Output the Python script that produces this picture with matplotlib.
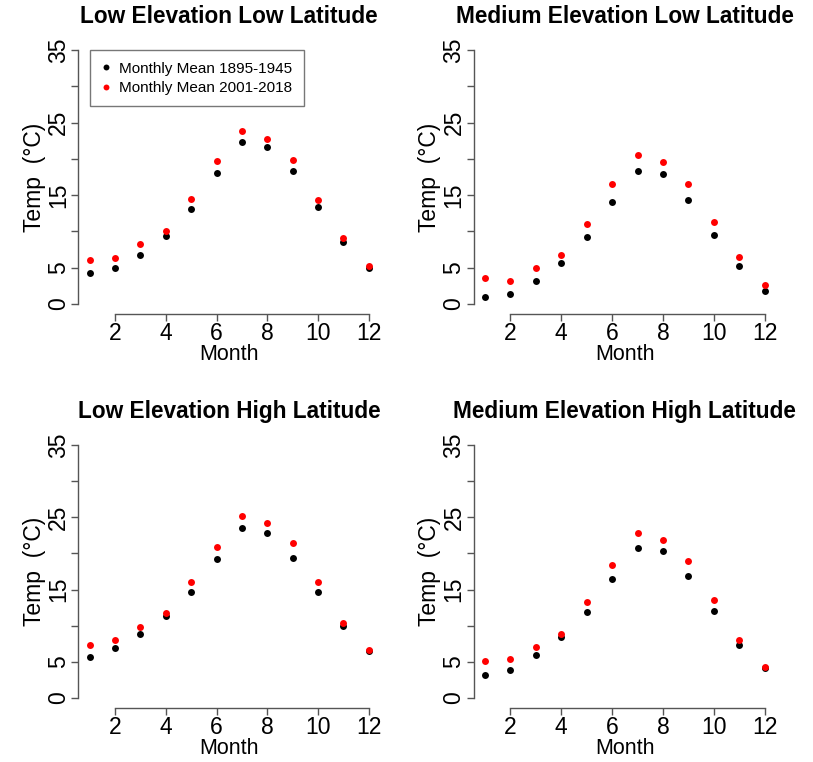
import matplotlib
matplotlib.use("Agg")
import matplotlib.pyplot as plt
import numpy as np

plt.rcParams['font.family'] = ['Liberation Sans', 'DejaVu Sans']

months = list(range(1, 13))

titles = [
    "Low Elevation Low Latitude",
    "Medium Elevation Low Latitude",
    "Low Elevation High Latitude",
    "Medium Elevation High Latitude",
]

# Monthly mean temperature (°C), 1895-1945
early_low_elev_low_lat = [4.3, 5.0, 6.7, 9.4, 13.1, 18.1, 22.3, 21.7, 18.3, 13.3, 8.5, 5.0]
early_med_elev_low_lat = [0.9, 1.3, 3.1, 5.7, 9.2, 14.1, 18.3, 17.9, 14.3, 9.5, 5.2, 1.8]
early_low_elev_high_lat = [5.6, 6.9, 8.8, 11.3, 14.7, 19.3, 23.5, 22.8, 19.4, 14.7, 9.9, 6.5]
early_med_elev_high_lat = [3.2, 3.9, 5.9, 8.5, 11.9, 16.5, 20.8, 20.3, 16.9, 12.1, 7.3, 4.1]

# Monthly mean temperature (°C), 2001-2018
recent_low_elev_low_lat = [6.0, 6.3, 8.2, 10.1, 14.4, 19.7, 23.9, 22.8, 19.9, 14.3, 9.1, 5.2]
recent_med_elev_low_lat = [3.5, 3.2, 5.0, 6.8, 11.0, 16.6, 20.5, 19.6, 16.6, 11.3, 6.4, 2.6]
recent_low_elev_high_lat = [7.3, 8.0, 9.8, 11.7, 16.0, 20.9, 25.2, 24.2, 21.5, 16.0, 10.4, 6.6]
recent_med_elev_high_lat = [5.1, 5.4, 7.1, 8.9, 13.3, 18.4, 22.9, 21.9, 19.0, 13.5, 8.0, 4.3]

early_series = [early_low_elev_low_lat, early_med_elev_low_lat,
                early_low_elev_high_lat, early_med_elev_high_lat]
recent_series = [recent_low_elev_low_lat, recent_med_elev_low_lat,
                 recent_low_elev_high_lat, recent_med_elev_high_lat]

legend_labels = ["Monthly Mean 1895-1945", "Monthly Mean 2001-2018"]
y_ticks = [0, 5, 10, 15, 20, 25, 30, 35]
y_tick_labels = ["0", "5", "", "15", "", "25", "", "35"]
x_ticks = [2, 4, 6, 8, 10, 12]

W, H = 813, 762
fig = plt.figure(figsize=(W / 100, H / 100), dpi=100)

# panel boxes in pixels: (left, top, right, bottom)
boxes = [
    (78.4, 40, 380, 314),
    (473.8, 40, 776, 314),
    (78.4, 435, 380, 708),
    (473.8, 435, 776, 708),
]

axis_col = "#555555"

for i, (l, t, r, b) in enumerate(boxes):
    ax = fig.add_axes([l / W, 1 - b / H, (r - l) / W, (b - t) / H])
    ax.plot(months, early_series[i], 'o', color='black', ms=5.0, mec='none',
            label=legend_labels[0])
    ax.plot(months, recent_series[i], 'o', color='red', ms=5.0, mec='none',
            label=legend_labels[1])
    ax.set_xlim(0.56, 12.44)
    ax.set_ylim(-1.4, 36.4)
    for s in ['top', 'right']:
        ax.spines[s].set_visible(False)
    ax.spines['left'].set_bounds(0, 35)
    ax.spines['bottom'].set_bounds(2, 12)
    for s in ['left', 'bottom']:
        ax.spines[s].set_color(axis_col)
        ax.spines[s].set_linewidth(1.0)
    ax.set_xticks(x_ticks)
    ax.set_yticks(y_ticks)
    ax.set_yticklabels(y_tick_labels, rotation=90, va='center')
    ax.tick_params(axis='both', direction='out', length=5, width=1.0,
                   color=axis_col, labelsize=16.5, labelcolor='black')
    ax.tick_params(axis='x', pad=1)
    ax.tick_params(axis='y', pad=1)
    ax.set_xlabel("Month", fontsize=15.5, labelpad=-1)
    ax.set_ylabel("Temp  (°C)", fontsize=16.5, labelpad=1)
    ax.set_title(titles[i], fontsize=16.3, fontweight='bold', pad=12)
    if i == 0:
        leg = ax.legend(loc='upper left', bbox_to_anchor=(1, 35),
                        bbox_transform=ax.transData, fontsize=11,
                        frameon=True, fancybox=False, borderaxespad=0,
                        handlelength=0.6, handletextpad=0.6,
                        borderpad=0.75, labelspacing=0.35, markerscale=0.85)
        leg.get_frame().set_edgecolor(axis_col)
        leg.get_frame().set_linewidth(1.0)

fig.savefig("out.png", dpi=100)
